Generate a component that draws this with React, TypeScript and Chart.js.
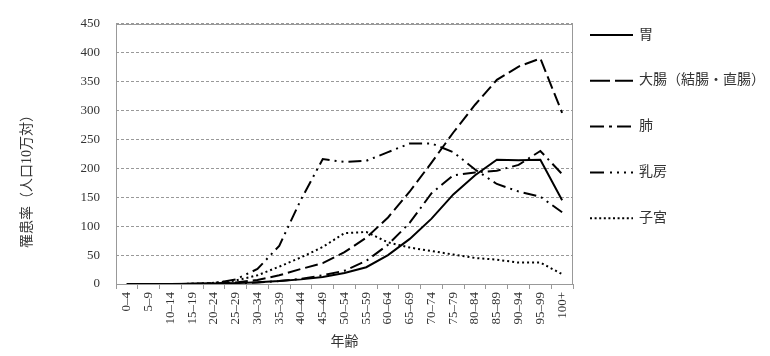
import React, { useEffect, useRef } from "react";
import { Chart, registerables } from "chart.js";

Chart.register(...registerables);

const ageGroups = [
  "0–4", "5–9", "10–14", "15–19", "20–24", "25–29", "30–34", "35–39", "40–44",
  "45–49", "50–54", "55–59", "60–64", "65–69", "70–74", "75–79", "80–84",
  "85–89", "90–94", "95–99", "100+",
];

const seriesNames = ["胃", "大腸（結腸・直腸）", "肺", "乳房", "子宮"];

const stomach = [0, 0, 0, 0.3, 0.8, 1.5, 3, 5, 8, 12, 19, 29, 50, 78, 113, 155, 188, 215, 214, 215, 145];
const colorectal = [0, 0, 0, 0.3, 1, 2.5, 7, 15, 26, 36, 55, 80, 115, 160, 210, 262, 310, 353, 376, 390, 296];
const lung = [0, 0, 0, 0, 0.3, 1, 2.5, 5, 9, 15, 23, 40, 68, 106, 157, 188, 193, 196, 206, 230, 190];
const breast = [0, 0, 0, 0.3, 1.5, 8, 26, 66, 146, 216, 211, 213, 228, 243, 243, 228, 198, 173, 160, 151, 124];
const uterus = [0, 0, 0, 0.3, 2, 6, 15, 30, 46, 64, 88, 90, 72, 63, 57, 51, 45, 42, 37, 37, 17];

const yMin = 0;
const yMax = 450;
const yStep = 50;

const yTitle = "罹患率（人口10万対）";
const xTitle = "年齢";

const FONT = '"Liberation Serif", "Noto Sans CJK JP", serif';
const TEXT = "#333";

const lineDashes: number[][] = [[], [13, 5], [13, 5, 2, 5], [13, 5, 2, 5, 2, 5], [2, 3]];
const legendDashes: number[][] = [[], [20, 5], [14, 5, 3, 5], [14, 6, 2, 5, 2, 5, 2, 5], [2, 2.6]];

export default function App() {
  const ref = useRef<HTMLCanvasElement>(null);

  useEffect(() => {
    const canvas = ref.current;
    if (!canvas) return;
    const values = [stomach, colorectal, lung, breast, uterus];

    const framePlugin = {
      id: "frame",
      beforeDatasetsDraw(chart: any) {
        const { ctx, chartArea } = chart;
        const { left, top, right, bottom } = chartArea;
        ctx.save();
        ctx.strokeStyle = "#999";
        ctx.lineWidth = 1;
        ctx.setLineDash([]);
        ctx.strokeRect(Math.round(left) + 0.5, Math.round(top) + 0.5, Math.round(right - left) - 1, Math.round(bottom - top));
        ctx.restore();
      },
    };

    const extrasPlugin = {
      id: "extras",
      afterDraw(chart: any) {
        const { ctx, chartArea } = chart;
        ctx.save();
        ctx.fillStyle = TEXT;
        ctx.font = `14px ${FONT}`;
        ctx.textAlign = "center";
        ctx.textBaseline = "middle";
        ctx.translate(27, 178);
        ctx.rotate(-Math.PI / 2);
        ctx.fillText(yTitle, 0, 0);
        ctx.restore();

        ctx.save();
        const x0 = chartArea.right + 17;
        const x1 = x0 + 43;
        chart.data.datasets.forEach((ds: any, i: number) => {
          const y = 35 + i * 45.8;
          ctx.strokeStyle = "#000";
          ctx.lineWidth = 2;
          ctx.lineCap = "butt";
          ctx.setLineDash(legendDashes[i]);
          ctx.beginPath();
          ctx.moveTo(x0, y);
          ctx.lineTo(x1, y);
          ctx.stroke();
          ctx.setLineDash([]);
          ctx.fillStyle = TEXT;
          ctx.font = `14px ${FONT}`;
          ctx.textAlign = "left";
          ctx.textBaseline = "middle";
          ctx.fillText(ds.label, x1 + 6, y);
        });
        ctx.restore();
      },
    };

    const chart = new Chart(canvas, {
      type: "line",
      data: {
        labels: ageGroups,
        datasets: values.map((d, i) => ({
          label: seriesNames[i],
          data: d,
          borderColor: "#000",
          backgroundColor: "#000",
          borderWidth: 2,
          borderDash: lineDashes[i],
          borderCapStyle: "butt",
          pointRadius: 0,
          pointHoverRadius: 0,
          tension: 0,
          fill: false,
        })),
      },
      options: {
        animation: false,
        responsive: false,
        events: [],
        layout: { padding: { left: 0, right: 197, top: 13, bottom: 0 } },
        plugins: {
          legend: { display: false },
          tooltip: { enabled: false },
        },
        scales: {
          x: {
            offset: true,
            grid: {
              offset: true,
              drawOnChartArea: false,
              drawTicks: true,
              tickLength: 5,
              color: "#999",
            },
            border: { display: false },
            ticks: {
              autoSkip: false,
              minRotation: 90,
              maxRotation: 90,
              padding: 3,
              color: TEXT,
              font: { family: FONT, size: 13 },
            },
            title: {
              display: true,
              text: xTitle,
              color: TEXT,
              font: { family: FONT, size: 14 },
              padding: { top: 0, bottom: 5 },
            },
            afterFit(scale: any) {
              scale.height = 72;
            },
          },
          y: {
            min: yMin,
            max: yMax,
            ticks: {
              stepSize: yStep,
              padding: 16,
              color: TEXT,
              font: { family: FONT, size: 13 },
            },
            grid: {
              color: "#999",
              lineWidth: 1,
              drawTicks: false,
            },
            border: { display: false, dash: [3, 2] },
            afterFit(scale: any) {
              scale.width = 116;
            },
          },
        },
      },
      plugins: [framePlugin, extrasPlugin],
    } as any);

    return () => chart.destroy();
  }, []);

  return (
    <div style={{ position: "absolute", left: 0, top: 0, width: 770, height: 356, background: "#fff" }}>
      <canvas ref={ref} width={770} height={356} style={{ display: "block" }} />
    </div>
  );
}
